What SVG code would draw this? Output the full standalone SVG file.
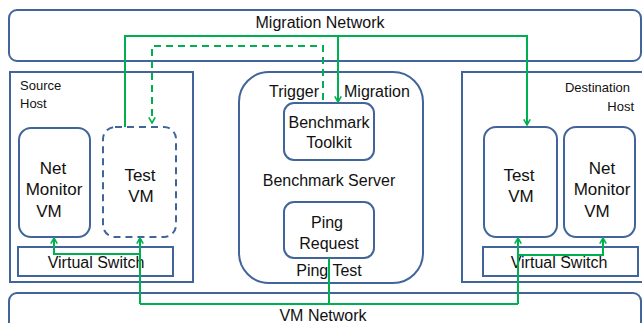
<svg xmlns="http://www.w3.org/2000/svg" width="642" height="323" viewBox="0 0 642 323">
  <style>
    .box { fill: #ffffff; stroke: #41659a; stroke-width: 2; }
    .dash { stroke-dasharray: 7 5; }
    .lbl { font-family: "Liberation Sans", Arial, sans-serif; font-size: 16px; fill: #111111; }
    .big { font-size: 17px; }
    .sm { font-size: 13px; }
    .mid { text-anchor: middle; }
    .link { fill: none; stroke: #00b050; stroke-width: 2; }
    .dlink { stroke-dasharray: 7 5; }
  </style>
  <defs>
    <marker id="chev" viewBox="0 0 10 10" refX="9" refY="5" markerWidth="8" markerHeight="8" orient="auto" markerUnits="userSpaceOnUse">
      <path d="M2,1 L9,5 L2,9" fill="none" stroke="#00b050" stroke-width="2"/>
    </marker>
  </defs>
  <rect width="642" height="323" fill="#ffffff"/>

  <g id="migration-network">
    <rect class="box" x="9" y="10" width="632" height="51" rx="8"/>
    <text class="lbl mid" x="320" y="28">Migration Network</text>
  </g>

  <g id="vm-network">
    <rect class="box" x="9" y="293" width="632" height="50" rx="8"/>
    <text class="lbl mid" x="323" y="321">VM Network</text>
  </g>

  <g id="source-host">
    <rect class="box" x="10" y="72" width="183" height="210"/>
    <text class="lbl sm" x="20" y="90">Source</text>
    <text class="lbl sm" x="20" y="108">Host</text>
  </g>
  <g id="src-net-monitor">
    <rect class="box" x="19" y="128" width="71" height="109" rx="12"/>
    <text class="lbl big mid" x="53" y="174">Net</text>
    <text class="lbl big mid" x="54" y="195">Monitor</text>
    <text class="lbl big mid" x="49" y="217">VM</text>
  </g>
  <g id="src-test-vm">
    <rect class="box dash" x="103" y="127" width="73" height="110" rx="12"/>
    <text class="lbl big mid" x="140" y="181">Test</text>
    <text class="lbl big mid" x="141" y="202">VM</text>
  </g>
  <g id="src-virtual-switch">
    <rect class="box" x="18" y="247" width="155" height="29"/>
    <text class="lbl mid" x="96" y="268">Virtual Switch</text>
  </g>

  <g id="benchmark-server">
    <rect class="box" x="239" y="72" width="184" height="211" rx="30"/>
    <text class="lbl" x="269" y="97">Trigger</text>
    <text class="lbl" x="344" y="97">Migration</text>
    <text class="lbl mid" x="329" y="186">Benchmark Server</text>
    <text class="lbl mid" x="329" y="276">Ping Test</text>
  </g>
  <g id="benchmark-toolkit">
    <rect class="box" x="284" y="103" width="90" height="57" rx="10"/>
    <text class="lbl mid" x="329" y="128">Benchmark</text>
    <text class="lbl mid" x="329" y="148">Toolkit</text>
  </g>
  <g id="ping-request">
    <rect class="box" x="284" y="202" width="90" height="56" rx="10"/>
    <text class="lbl mid" x="327" y="228">Ping</text>
    <text class="lbl mid" x="329" y="249">Request</text>
  </g>

  <g id="destination-host">
    <rect class="box" x="462" y="72" width="190" height="210"/>
    <text class="lbl sm" x="630" y="92" text-anchor="end">Destination</text>
    <text class="lbl sm" x="634" y="111" text-anchor="end">Host</text>
  </g>
  <g id="dst-test-vm">
    <rect class="box" x="484" y="127" width="73" height="110" rx="12"/>
    <text class="lbl big mid" x="519" y="181">Test</text>
    <text class="lbl big mid" x="521" y="202">VM</text>
  </g>
  <g id="dst-net-monitor">
    <rect class="box" x="564" y="127" width="71" height="110" rx="12"/>
    <text class="lbl big mid" x="602" y="174">Net</text>
    <text class="lbl big mid" x="602" y="195">Monitor</text>
    <text class="lbl big mid" x="597" y="217">VM</text>
  </g>
  <g id="dst-virtual-switch">
    <rect class="box" x="483" y="247" width="155" height="29"/>
    <text class="lbl mid" x="559" y="268">Virtual Switch</text>
  </g>

  <g id="connectors">
    <!-- live migration path over the migration network -->
    <polyline class="link" points="125,127 125,36 527,36 527,125" marker-end="url(#chev)"/>
    <polyline class="link" points="338,36 338,102" marker-end="url(#chev)"/>
    <!-- trigger from the toolkit to the source VM -->
    <polyline class="link dlink" points="323,100 323,46 152,46 152,123" marker-end="url(#chev)"/>
    <!-- ping traffic over the VM network -->
    <polyline class="link" points="140,304 140,238" marker-end="url(#chev)"/>
    <polyline class="link" points="140,254 54,254 54,238" marker-end="url(#chev)"/>
    <polyline class="link" points="140,304 518,304"/>
    <polyline class="link" points="329,258 329,304"/>
    <polyline class="link" points="518,304 518,238" marker-end="url(#chev)"/>
    <polyline class="link" points="518,255 603,255 603,238" marker-end="url(#chev)"/>
  </g>
</svg>
